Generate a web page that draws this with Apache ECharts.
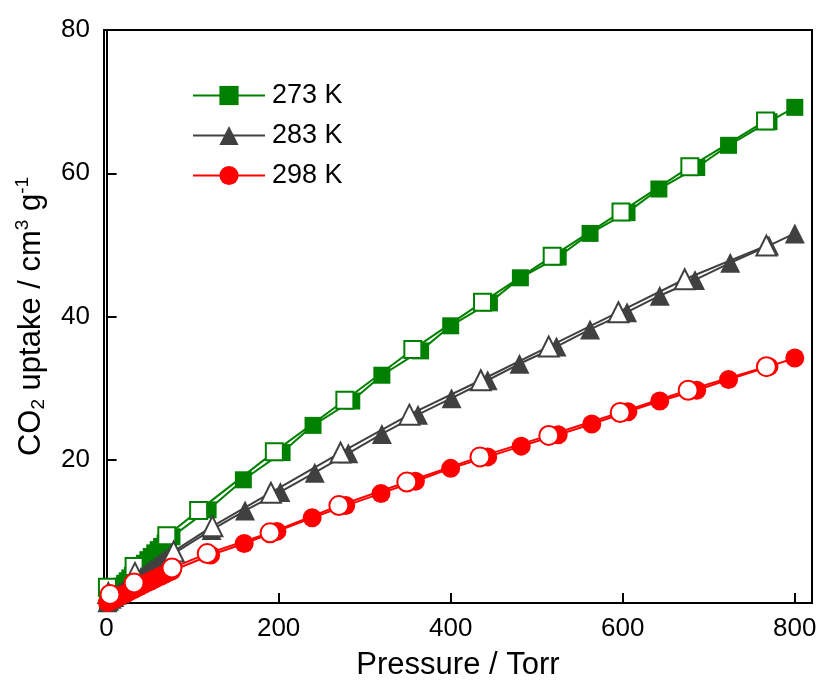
<!DOCTYPE html>
<html>
<head>
<meta charset="utf-8">
<script src="https://cdn.jsdelivr.net/npm/echarts@6/dist/echarts.min.js"></script>
<style>
  html, body { margin: 0; padding: 0; background: #fff; }
  #chart { width: 821px; height: 686px; }
</style>
</head>
<body>
<div id="chart"></div>
<script>
// 低压段 (dense points)
var lowP = [1, 3, 6, 9, 12, 15, 18, 21, 24, 27, 30, 33, 36, 40, 44, 48, 52, 56, 60, 64, 68, 72, 76];

// 273 K
var p273Ads = lowP.concat([118, 159, 204, 240, 285, 320, 365, 400, 445, 481, 525, 562, 605, 642, 686, 723, 770, 800]);
var u273Ads = [0.15, 0.45, 0.85, 1.2, 1.6, 2.0, 2.35, 2.75, 3.1, 3.5, 3.85, 4.25, 4.6, 5.1, 5.55, 6.05, 6.5, 7.0, 7.45, 7.9, 8.35, 8.8, 9.25,
  13.0, 17.2, 21.0, 24.8, 28.2, 31.8, 35.2, 38.7, 41.9, 45.4, 48.3, 51.6, 54.5, 57.8, 60.8, 63.9, 67.2, 69.2];
var p273Des = [766, 678, 598, 518, 437, 356, 277, 195, 107, 70, 32, 1];
var u273Des = [67.3, 60.9, 54.6, 48.4, 42.0, 35.4, 28.3, 21.1, 12.9, 9.4, 5.1, 2.2];

// 283 K
var p283Ads = lowP.concat([122, 161, 202, 242, 281, 320, 362, 401, 443, 480, 523, 562, 605, 643, 684, 725, 770, 800]);
var u283Ads = [0.1, 0.3, 0.6, 0.85, 1.15, 1.4, 1.7, 1.95, 2.25, 2.5, 2.75, 3.05, 3.3, 3.65, 4.0, 4.35, 4.7, 5.05, 5.4, 5.75, 6.1, 6.4, 6.75,
  10.2, 12.9, 15.5, 18.2, 20.9, 23.6, 26.3, 28.6, 31.1, 33.4, 35.8, 38.2, 40.6, 42.9, 45.1, 47.5, 49.9, 51.6];
var p283Des = [767, 672, 595, 514, 435, 352, 272, 191, 123, 78, 33, 2];
var u283Des = [49.9, 45.2, 40.6, 35.8, 31.1, 26.3, 21.0, 15.4, 10.7, 7.2, 4.2, 1.4];

// 298 K
var p298Ads = lowP.concat([121, 160, 198, 239, 278, 319, 359, 400, 443, 482, 525, 564, 606, 643, 686, 723, 770, 800]);
var u298Ads = [0.06, 0.18, 0.36, 0.54, 0.72, 0.9, 1.08, 1.26, 1.44, 1.62, 1.8, 1.98, 2.16, 2.4, 2.64, 2.88, 3.1, 3.34, 3.58, 3.8, 4.04, 4.28, 4.5,
  6.7, 8.3, 10.0, 11.9, 13.6, 15.3, 17.0, 18.8, 20.4, 21.9, 23.5, 25.0, 26.7, 28.2, 29.7, 31.2, 33.0, 34.2];
var p298Des = [767, 676, 597, 514, 434, 349, 270, 190, 117, 76, 32, 4];
var u298Des = [33.0, 29.7, 26.6, 23.4, 20.4, 16.9, 13.6, 9.8, 6.9, 4.9, 2.8, 1.2];

var xTicks = [0, 200, 400, 600, 800];
var legendNames = ['273 K', '283 K', '298 K'];

var FONT = '"Liberation Sans", Arial, sans-serif';

function pairs (xs, ys) {
  var out = [];
  for (var i = 0; i < xs.length; i++) out.push([xs[i], ys[i]]);
  return out;
}

function adsSeries (name, xs, ys, color, symbol, size) {
  return {
    name: name,
    type: 'line',
    data: pairs(xs, ys),
    symbol: symbol,
    symbolSize: size,
    showAllSymbol: true,
    itemStyle: { color: color },
    lineStyle: { color: color, width: 2 },
    emphasis: { disabled: true }
  };
}

function desSeries (name, xs, ys, color, symbol, size) {
  return {
    name: name,
    type: 'line',
    data: pairs(xs, ys),
    symbol: symbol,
    symbolSize: size,
    showAllSymbol: true,
    itemStyle: { color: '#fff', borderColor: color, borderWidth: 2 },
    lineStyle: { color: color, width: 2 },
    emphasis: { disabled: true }
  };
}

var chart = echarts.init(document.getElementById('chart'), null, { renderer: 'canvas' });

var option = {
  animation: false,
  backgroundColor: '#fff',
  textStyle: { fontFamily: FONT },
  grid: {
    left: 104, top: 30, right: 9, bottom: 80,
    show: true, borderColor: '#000', borderWidth: 2
  },
  legend: {
    data: legendNames,
    orient: 'vertical',
    left: 187,
    top: 77,
    itemWidth: 72,
    itemHeight: 24,
    itemGap: 13,
    textStyle: { fontSize: 27, color: '#000', fontFamily: FONT, padding: [0, 0, 0, 2] }
  },
  xAxis: {
    type: 'value',
    min: -3,
    max: 820,
    name: 'Pressure / Torr',
    nameLocation: 'middle',
    nameGap: 47,
    nameTextStyle: { fontSize: 31, color: '#000', fontFamily: FONT },
    axisLine: { lineStyle: { color: '#000', width: 2 } },
    axisTick: { inside: true, length: 10, customValues: xTicks, lineStyle: { color: '#000', width: 2 } },
    axisLabel: { customValues: xTicks, fontSize: 26, color: '#000', margin: 13, fontFamily: FONT },
    splitLine: { show: false }
  },
  yAxis: {
    type: 'value',
    min: 0,
    max: 80,
    interval: 20,
    name: '{a|CO}{s|2}{a| uptake / cm}{p|3}{a| g}{p|-1}',
    nameLocation: 'middle',
    nameRotate: 90,
    nameGap: 53,
    nameTextStyle: {
      color: '#000',
      rich: {
        a: { fontSize: 31, fontFamily: FONT, color: '#000', lineHeight: 40, verticalAlign: 'middle' },
        s: { fontSize: 19, fontFamily: FONT, color: '#000', lineHeight: 40, padding: [16, 0, 0, 0] },
        p: { fontSize: 19, fontFamily: FONT, color: '#000', lineHeight: 40, padding: [0, 0, 16, 0] }
      }
    },
    axisLine: { lineStyle: { color: '#000', width: 2 } },
    axisTick: { inside: true, length: 10, lineStyle: { color: '#000', width: 2 } },
    axisLabel: { showMinLabel: false, fontSize: 26, color: '#000', margin: 14, fontFamily: FONT },
    splitLine: { show: false }
  },
  series: [
    adsSeries('273 K', p273Ads, u273Ads, '#008000', 'rect', 17),
    desSeries('273 K des', p273Des, u273Des, '#008000', 'rect', 17),
    adsSeries('283 K', p283Ads, u283Ads, '#404040', 'triangle', 20),
    desSeries('283 K des', p283Des, u283Des, '#404040', 'triangle', 20),
    adsSeries('298 K', p298Ads, u298Ads, '#ff0000', 'circle', 19),
    desSeries('298 K des', p298Des, u298Des, '#ff0000', 'circle', 19)
  ]
};

chart.setOption(option);
</script>
</body>
</html>
